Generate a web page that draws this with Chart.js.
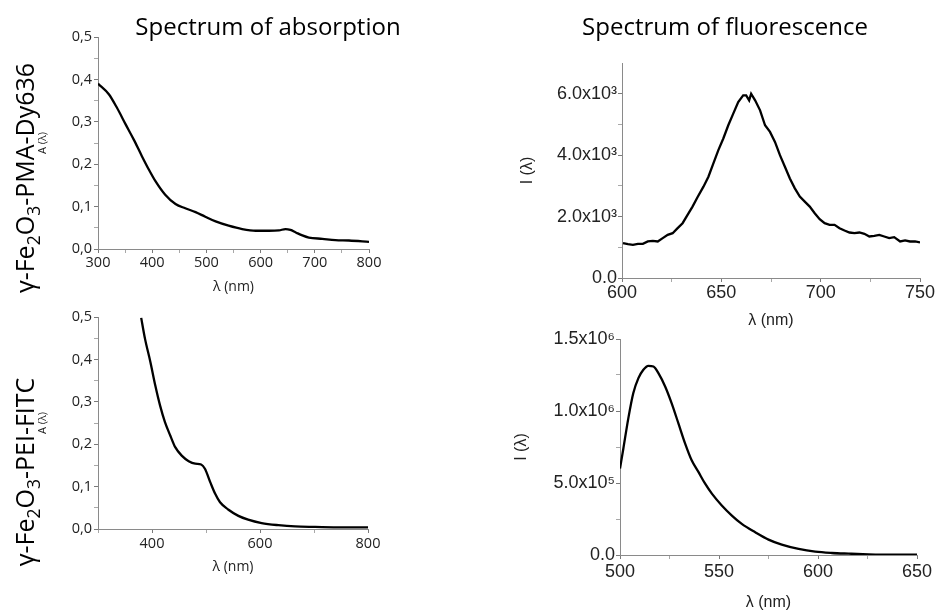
<!DOCTYPE html>
<html lang="en">

<head>
    <meta charset="UTF-8">
    <title>Absorption and fluorescence spectra</title>
    <script src="https://cdn.jsdelivr.net/npm/chart.js"></script>
    <style>
        body,
        html {
            margin: 0;
            width: 938px;
            height: 610px;
            overflow: hidden;
            background: #fff;
        }

        canvas {
            position: absolute;
        }

        .title {
            position: absolute;
            font-family: "Open Sans", sans-serif;
            font-size: 24px;
            color: #000;
            white-space: nowrap;
            transform: translate(-50%, -50%);
        }

        .sample {
            position: absolute;
            font-family: "Open Sans", sans-serif;
            font-size: 25px;
            color: #000;
            white-space: nowrap;
            transform: translate(-50%, -50%) rotate(-90deg);
        }

        .sample sub {
            font-size: 0.7em;
        }
    </style>
</head>

<body>
    <canvas id="absTop"></canvas>
    <canvas id="absBottom"></canvas>
    <canvas id="fluoTop"></canvas>
    <canvas id="fluoBottom"></canvas>

    <div class="title" style="left: 268px; top: 25px;">Spectrum of absorption</div>
    <div class="title" style="left: 725px; top: 25px;">Spectrum of fluorescence</div>
    <div class="sample" style="left: 26px; top: 178px;">γ-Fe<sub>2</sub>O<sub>3</sub>-PMA-Dy636</div>
    <div class="sample" style="left: 26px; top: 472px;">γ-Fe<sub>2</sub>O<sub>3</sub>-PEI-FITC</div>

    <script>
        // absorption, γ-Fe2O3-PMA-Dy636
        const pmaWavelength = [300, 320, 335, 351, 366, 381, 394, 406, 424, 443, 461, 480, 498, 517, 541, 566, 591, 615, 634, 646, 655, 665, 677, 689, 714, 738, 763, 800];
        const pmaAbsorbance = [0.390, 0.365, 0.333, 0.294, 0.258, 0.219, 0.187, 0.160, 0.128, 0.106, 0.096, 0.087, 0.076, 0.065, 0.055, 0.047, 0.043, 0.043, 0.044, 0.047, 0.045, 0.039, 0.032, 0.027, 0.024, 0.021, 0.020, 0.017];

        // absorption, γ-Fe2O3-PEI-FITC
        const peiWavelength = [380, 387, 397, 406, 415, 424, 434, 443, 455, 468, 480, 491, 498, 508, 517, 526, 541, 560, 578, 603, 634, 665, 702, 751, 800];
        const peiAbsorbance = [0.498, 0.449, 0.394, 0.339, 0.291, 0.252, 0.220, 0.193, 0.173, 0.160, 0.154, 0.152, 0.142, 0.110, 0.083, 0.063, 0.046, 0.031, 0.022, 0.014, 0.009, 0.006, 0.005, 0.004, 0.004];

        // fluorescence, Dy636
        const dyWavelength = [600.5, 603, 605.5, 608, 610.5, 613, 615.5, 618, 620.5, 623, 625.5, 628, 630.5, 633, 635.5, 638, 641, 643.5, 646, 648.5, 651, 653.5, 656, 658.5, 661, 662.5, 664, 665, 667, 669.5, 672, 674.5, 677, 679.5, 682, 684.5, 687, 689.5, 692, 694.5, 697, 699.5, 702, 704.5, 707, 709.5, 712, 714.5, 717, 719.5, 722, 724.5, 727, 729.5, 732, 734.5, 737, 740, 742.5, 745, 747.5, 750];
        const dyIntensity = [1135, 1103, 1081, 1114, 1114, 1189, 1211, 1189, 1297, 1405, 1459, 1622, 1784, 2054, 2324, 2627, 2973, 3297, 3730, 4162, 4541, 4973, 5351, 5730, 5946, 5946, 5784, 6000, 5784, 5459, 4973, 4757, 4432, 4000, 3622, 3243, 2919, 2649, 2486, 2324, 2108, 1914, 1784, 1730, 1730, 1622, 1546, 1481, 1459, 1481, 1438, 1351, 1373, 1405, 1351, 1297, 1330, 1189, 1222, 1189, 1189, 1157];

        // fluorescence, FITC
        const fitcWavelength = [500, 501.7, 504.2, 506.7, 509.3, 511.8, 514.3, 516.9, 519.4, 522.8, 526.1, 529.5, 532.9, 536.2, 539.6, 543, 546.4, 551.4, 556.5, 561.5, 568.3, 575, 581.7, 590.2, 598.6, 607, 615.5, 625.6, 637.4, 650];
        const fitcIntensity = [600000, 740000, 949000, 1123000, 1228000, 1286000, 1314000, 1309000, 1263000, 1170000, 1053000, 914000, 774000, 658000, 577000, 495000, 426000, 344000, 274000, 216000, 158000, 107000, 72000, 42000, 23000, 14000, 9300, 4700, 2300, 2300];

        // tick labels
        const absYTicks = [0, 0.1, 0.2, 0.3, 0.4, 0.5];
        const absYLabels = ['0,0', '0,1', '0,2', '0,3', '0,4', '0,5'];
        const pmaXTicks = [300, 400, 500, 600, 700, 800];
        const peiXTicks = [400, 600, 800];
        const dyYTicks = [0, 2000, 4000, 6000];
        const dyYLabels = ['0.0', '2.0x10³', '4.0x10³', '6.0x10³'];
        const dyXTicks = [600, 650, 700, 750];
        const fitcYTicks = [0, 500000, 1000000, 1500000];
        const fitcYLabels = ['0.0', '5.0x10⁵', '1.0x10⁶', '1.5x10⁶'];
        const fitcXTicks = [500, 550, 600, 650];

        const absFont = { family: '"Open Sans", sans-serif', size: 14.5 };
        const fluoFont = { family: '"Liberation Sans", Arial, sans-serif', size: 18 };

        function steps(from, to, step) {
            const out = [];
            for (let i = 0; from + i * step <= to + 1e-9; i++) out.push(from + i * step);
            return out;
        }

        function findTick(v, list) {
            return list.findIndex(t => Math.abs(t - v) < 1e-6 * Math.max(1, Math.abs(t)));
        }

        function drawPanel(id, box, area, o) {
            const canvas = document.getElementById(id);
            canvas.style.left = box.left + 'px';
            canvas.style.top = box.top + 'px';
            canvas.width = box.width;
            canvas.height = box.height;

            const tickColor = (major, c) => findTick(c.tick.value, major) >= 0 ? '#7a7a7a' : '#a8a8a8';

            new Chart(canvas, {
                type: 'line',
                data: {
                    datasets: [{
                        data: o.xs.map((x, i) => ({ x: x, y: o.ys[i] })),
                        borderColor: '#000',
                        borderWidth: 2.3,
                        pointRadius: 0,
                        fill: false,
                        cubicInterpolationMode: o.smooth ? 'monotone' : 'default',
                        tension: 0
                    }]
                },
                options: {
                    responsive: false,
                    animation: false,
                    events: [],
                    layout: {
                        padding: {
                            left: 0,
                            bottom: 0,
                            top: area.t - box.top,
                            right: box.left + box.width - area.r
                        }
                    },
                    plugins: { legend: { display: false }, tooltip: { enabled: false } },
                    scales: {
                        x: {
                            type: 'linear',
                            min: o.xMin,
                            max: o.xMax,
                            afterFit: s => { s.height = box.top + box.height - area.b; },
                            afterBuildTicks: s => { s.ticks = o.xAll.map(v => ({ value: v })); },
                            ticks: {
                                autoSkip: false,
                                maxRotation: 0,
                                padding: o.xPad,
                                font: o.font,
                                color: o.textColor,
                                callback: v => findTick(v, o.xTicks) >= 0 ? String(v) : ''
                            },
                            grid: {
                                drawOnChartArea: false,
                                tickLength: 4,
                                tickColor: c => tickColor(o.xTicks, c)
                            },
                            border: { color: '#8a8a8a', width: 1 },
                            title: {
                                display: true,
                                text: 'λ (nm)',
                                font: o.xTitleFont,
                                color: o.textColor,
                                padding: { top: 0, bottom: o.xTitlePad }
                            }
                        },
                        y: {
                            min: o.yMin,
                            max: o.yMax,
                            afterFit: s => { s.width = area.l - box.left; },
                            afterBuildTicks: s => { s.ticks = o.yAll.map(v => ({ value: v })); },
                            ticks: {
                                autoSkip: false,
                                padding: o.yPad,
                                font: o.font,
                                color: o.textColor,
                                callback: v => {
                                    const k = findTick(v, o.yTicks);
                                    return k >= 0 ? o.yLabels[k] : '';
                                }
                            },
                            grid: {
                                drawOnChartArea: false,
                                tickLength: 4,
                                tickColor: c => tickColor(o.yTicks, c)
                            },
                            border: { color: '#8a8a8a', width: 1 },
                            title: {
                                display: true,
                                text: o.yTitle,
                                font: o.yTitleFont,
                                color: o.textColor,
                                padding: { top: o.yTitlePad, bottom: 0 }
                            }
                        }
                    }
                }
            });
        }

        drawPanel('absTop',
            { left: 0, top: 20, width: 400, height: 285 },
            { l: 98, t: 37, r: 369, b: 249 },
            {
                xs: pmaWavelength, ys: pmaAbsorbance, smooth: true,
                xMin: 300, xMax: 800, xAll: steps(300, 800, 50), xTicks: pmaXTicks, xPad: 1,
                yMin: 0, yMax: 0.5, yAll: steps(0, 0.5, 0.05), yTicks: absYTicks, yLabels: absYLabels, yPad: 2,
                font: absFont, textColor: '#222',
                xTitleFont: { family: '"Open Sans", sans-serif', size: 14 }, xTitlePad: 10,
                yTitle: 'A (λ)', yTitleFont: { family: '"Open Sans", sans-serif', size: 11 }, yTitlePad: 36
            });

        drawPanel('absBottom',
            { left: 0, top: 300, width: 400, height: 285 },
            { l: 98, t: 317, r: 368, b: 529 },
            {
                xs: peiWavelength, ys: peiAbsorbance, smooth: true,
                xMin: 300, xMax: 800, xAll: steps(300, 800, 100), xTicks: peiXTicks, xPad: 2,
                yMin: 0, yMax: 0.5, yAll: steps(0, 0.5, 0.05), yTicks: absYTicks, yLabels: absYLabels, yPad: 2,
                font: absFont, textColor: '#222',
                xTitleFont: { family: '"Open Sans", sans-serif', size: 14 }, xTitlePad: 10,
                yTitle: 'A (λ)', yTitleFont: { family: '"Open Sans", sans-serif', size: 11 }, yTitlePad: 36
            });

        drawPanel('fluoTop',
            { left: 480, top: 40, width: 458, height: 295 },
            { l: 622, t: 63, r: 920, b: 278 },
            {
                xs: dyWavelength, ys: dyIntensity, smooth: false,
                xMin: 600, xMax: 750, xAll: steps(600, 750, 25), xTicks: dyXTicks, xPad: 0,
                yMin: 0, yMax: 7000, yAll: steps(0, 6000, 1000), yTicks: dyYTicks, yLabels: dyYLabels, yPad: 1,
                font: fluoFont, textColor: '#222',
                xTitleFont: { family: '"Liberation Sans", Arial, sans-serif', size: 16 }, xTitlePad: 5,
                yTitle: 'I (λ)', yTitleFont: { family: '"Liberation Sans", Arial, sans-serif', size: 16 }, yTitlePad: 38
            });

        drawPanel('fluoBottom',
            { left: 480, top: 325, width: 458, height: 290 },
            { l: 620, t: 339, r: 917, b: 555 },
            {
                xs: fitcWavelength, ys: fitcIntensity, smooth: true,
                xMin: 500, xMax: 650, xAll: steps(500, 650, 25), xTicks: fitcXTicks, xPad: 2,
                yMin: 0, yMax: 1500000, yAll: steps(0, 1500000, 250000), yTicks: fitcYTicks, yLabels: fitcYLabels, yPad: 1,
                font: fluoFont, textColor: '#222',
                xTitleFont: { family: '"Liberation Sans", Arial, sans-serif', size: 16 }, xTitlePad: 3,
                yTitle: 'I (λ)', yTitleFont: { family: '"Liberation Sans", Arial, sans-serif', size: 16 }, yTitlePad: 32
            });
    </script>
</body>

</html>
